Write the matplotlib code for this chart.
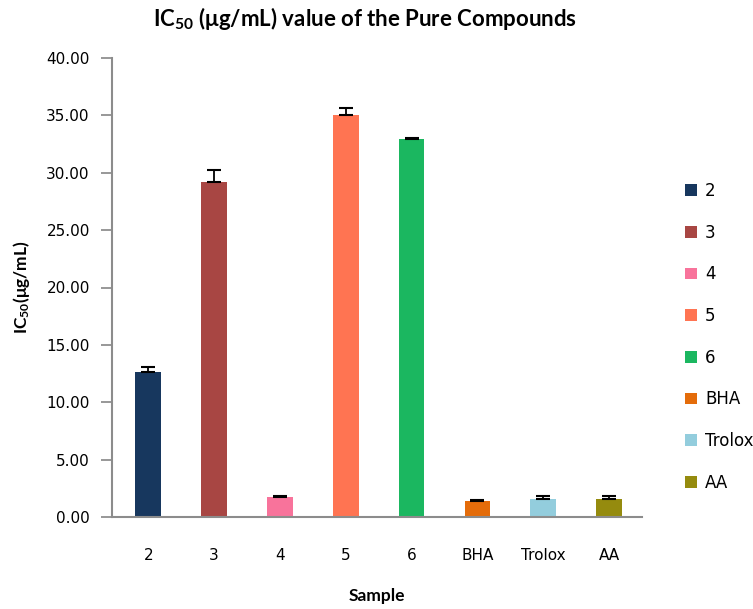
import matplotlib
matplotlib.use("Agg")
import matplotlib.pyplot as plt
from matplotlib.patches import Patch

plt.rcParams["mathtext.fontset"] = "custom"
plt.rcParams["mathtext.rm"] = "Lato:bold"
plt.rcParams["mathtext.it"] = "Lato:bold"
plt.rcParams["mathtext.bf"] = "Lato:bold"

categories = ["2", "3", "4", "5", "6", "BHA", "Trolox", "AA"]
values = [12.6, 29.2, 1.7, 35.0, 32.9, 1.4, 1.6, 1.6]
errors = [0.45, 1.0, 0.12, 0.6, 0.1, 0.1, 0.2, 0.2]
colors = ["#17375E", "#A84643", "#F8739B", "#FF7452", "#1BB760", "#E46C0A", "#93CDDD", "#958B0E"]
yticks = [0, 5, 10, 15, 20, 25, 30, 35, 40]

fig = plt.figure(figsize=(7.53, 6.09), dpi=100)
ax = fig.add_axes([112/753, 1-517/609, (642-112)/753, (517-58)/609])

x = list(range(len(categories)))
ax.bar(x, values, width=0.39, color=colors, zorder=2)
ax.errorbar(x, values, yerr=[[0]*len(errors), errors], fmt="none", ecolor="black",
            elinewidth=1.3, capsize=5, capthick=1.5, zorder=3)

ax.set_xlim(-0.55, 7.5)
ax.set_ylim(0, 40)
ax.set_yticks(yticks)
ax.set_yticklabels([f"{v:.2f}" for v in yticks], fontsize=11, family="DejaVu Sans")
ax.set_xticks(x)
ax.set_xticklabels(categories, fontsize=11, family="DejaVu Sans")
ax.tick_params(axis="x", length=0, pad=22)
ax.tick_params(axis="y", length=8, width=1.2, color="#868686", direction="out", pad=8)
for s in ["top", "right"]:
    ax.spines[s].set_visible(False)
for s in ["left", "bottom"]:
    ax.spines[s].set_color("#8C8C8C")
    ax.spines[s].set_linewidth(1.5)

ax.set_xlabel("Sample", fontsize=12.5, fontweight="bold", family="Lato", labelpad=18)
ax.set_ylabel(r"IC$_{50}$(μg/mL)", fontsize=12.5, fontweight="bold", family="Lato", labelpad=10)
fig.text(0.485, 1-18/609, "IC$_{50}$ (μg/mL) value of the Pure Compounds", ha="center", va="center",
         fontsize=16, fontweight="bold", family="Lato")

handles = [Patch(facecolor=c, edgecolor="none") for c in colors]
fig.legend(handles, categories, loc="upper left", bbox_to_anchor=(670/753, 1-167/609),
           frameon=False, handlelength=0.7, handleheight=0.7,
           handletextpad=0.5, labelspacing=1.42, prop={"family": "DejaVu Sans", "size": 12})

fig.savefig("out.png", dpi=100)
